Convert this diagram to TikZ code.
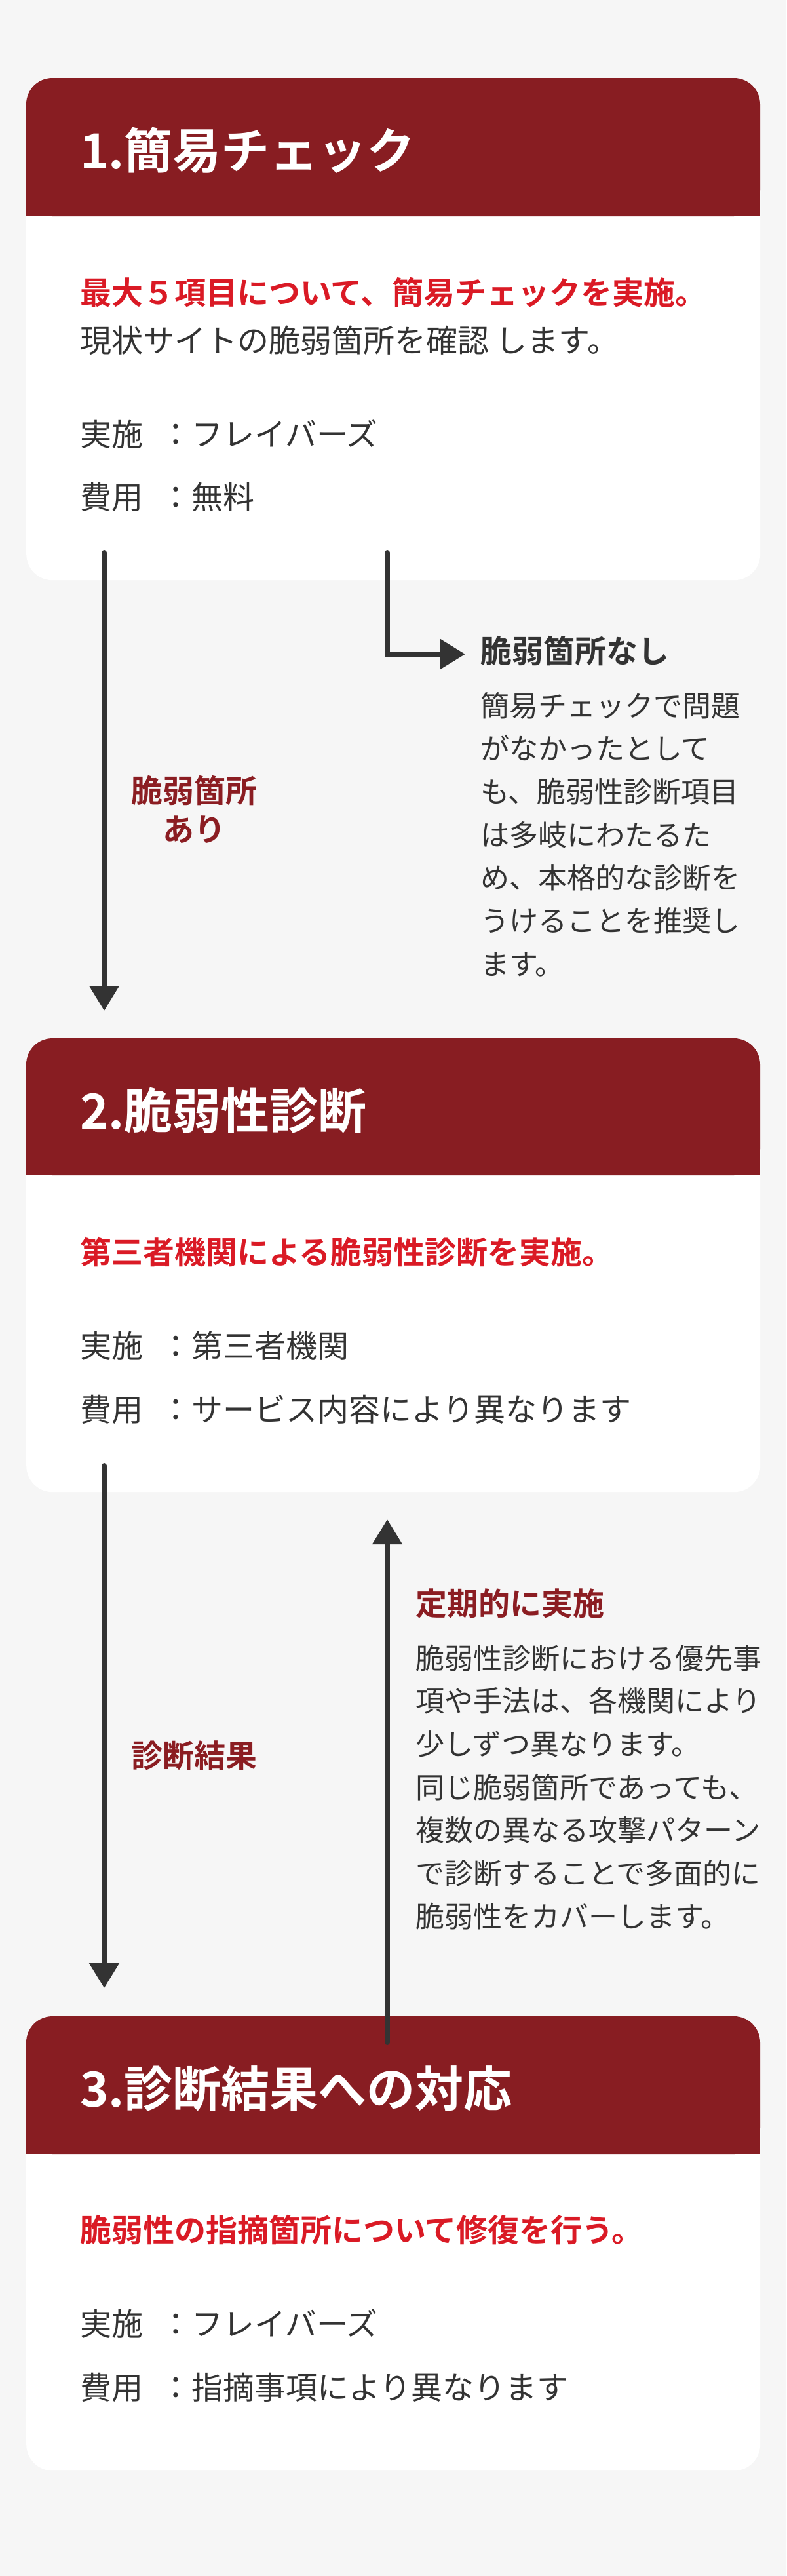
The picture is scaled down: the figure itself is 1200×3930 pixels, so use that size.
\documentclass[tikz,border=0pt]{standalone}
\usepackage{fontspec}
\setmainfont{Noto Sans CJK JP}[BoldFont={Noto Sans CJK JP Bold}]
\usetikzlibrary{arrows.meta}
\definecolor{bgc}{HTML}{F6F6F6}
\definecolor{hdr}{HTML}{881D22}
\definecolor{redtxt}{HTML}{DA1A25}
\definecolor{lbl}{HTML}{8B1D22}
\definecolor{inkc}{HTML}{333333}
\tikzset{
  txt/.style={inner sep=0pt, anchor=base west, text=inkc},
  ttl/.style={txt, text=white, font=\fontsize{74}{80}\selectfont\bfseries},
  lead/.style={txt, text=redtxt, font=\fontsize{48}{56}\selectfont\bfseries},
  bodytxt/.style={txt, font=\fontsize{48}{56}\selectfont},
  para/.style={txt, font=\fontsize{44}{66}\selectfont},
  subhead/.style={txt, font=\fontsize{48}{56}\selectfont\bfseries},
  lab/.style={inner sep=0pt, anchor=base, text=lbl, font=\fontsize{48}{59}\selectfont\bfseries},
  conn/.style={draw=inkc, line width=8pt, line cap=round, line join=miter, -{Triangle[width=44pt,length=38pt]}},
  card/.style={fill=white, rounded corners=40pt, inner sep=0pt, anchor=north west, minimum width=1120pt},
}
\begin{document}
\begin{tikzpicture}[x=1pt,y=-1pt]
\fill[bgc] (0,0) rectangle (1200,3930);
\useasboundingbox (0,0) rectangle (1200,3930);

% cards
\node[card, minimum height=766pt] (card1) at (40,119) {};
\node[card, minimum height=692pt] (card2) at (40,1584) {};
\node[card, minimum height=693pt] (card3) at (40,3076) {};

% headers
\fill[hdr, rounded corners=40pt] (40,119) rectangle (1160,330);
\fill[hdr] (40,280) rectangle (1160,330);
\fill[hdr, rounded corners=40pt] (40,1584) rectangle (1160,1793);
\fill[hdr] (40,1740) rectangle (1160,1793);
\fill[hdr, rounded corners=40pt] (40,3076) rectangle (1160,3286);
\fill[hdr] (40,3230) rectangle (1160,3286);

% card 1
\node[ttl] (t1) at (122,257) {1.簡易チェック};
\node[lead] (l1) at (122,464) {最大５項目について、簡易チェックを実施。};
\node[bodytxt] (b1) at (122,537) {現状サイトの脆弱箇所を確認 します。};
\node[bodytxt] (i1) at (122,680) {実施\hspace{26pt}：フレイバーズ};
\node[bodytxt] (c1) at (122,776) {費用\hspace{26pt}：無料};

% card 2
\node[ttl] (t2) at (122,1722) {2.脆弱性診断};
\node[lead] (l2) at (122,1928) {第三者機関による脆弱性診断を実施。};
\node[bodytxt] (i2) at (122,2071) {実施\hspace{26pt}：第三者機関};
\node[bodytxt] (c2) at (122,2168) {費用\hspace{26pt}：サービス内容により異なります};

% card 3
\node[ttl] (t3) at (122,3214) {3.診断結果への対応};
\node[lead] (l3) at (122,3420) {脆弱性の指摘箇所について修復を行う。};
\node[bodytxt] (i3) at (122,3563) {実施\hspace{26pt}：フレイバーズ};
\node[bodytxt] (c3) at (122,3660) {費用\hspace{26pt}：指摘事項により異なります};

% side notes
\node[subhead] (s1) at (733,1011) {脆弱箇所なし};
\node[para] (p1) at (733,1093) {\vtop{\baselineskip=65.7pt
  \hbox{簡易チェックで問題}\hbox{がなかったとして}\hbox{も、脆弱性診断項目}
  \hbox{は多岐にわたるた}\hbox{め、本格的な診断を}\hbox{うけることを推奨し}\hbox{ます。}}};
\node[subhead, text=lbl] (s2) at (634,2464) {定期的に実施};
\node[para] (p2) at (634,2546) {\vtop{\baselineskip=65.7pt
  \hbox{脆弱性診断における優先事}\hbox{項や手法は、各機関により}\hbox{少しずつ異なります。}
  \hbox{同じ脆弱箇所であっても、}\hbox{複数の異なる攻撃パターン}\hbox{で診断することで多面的に}\hbox{脆弱性をカバーします。}}};

\node[lab] (lab1) at (296,1224) {\vtop{\baselineskip=59pt \halign{\hfil#\hfil\cr 脆弱箇所\cr あり\cr}}};
\node[lab] (lab2) at (296,2696) {診断結果};

% connectors
\coordinate (a1s) at (159,843);
\coordinate (a1e) at (159,1542);
\coordinate (a2s) at (591,843);
\coordinate (a2e) at (710,998);
\coordinate (a3s) at (159,2236);
\coordinate (a3e) at (159,3033);
\coordinate (a4s) at (591,3116);
\coordinate (a4e) at (591,2318);
\draw[conn] (a1s) -- (a1e);
\draw[conn] (a2s) |- (a2e);
\draw[conn] (a3s) -- (a3e);
\draw[conn] (a4s) -- (a4e);
\end{tikzpicture}
\end{document}
